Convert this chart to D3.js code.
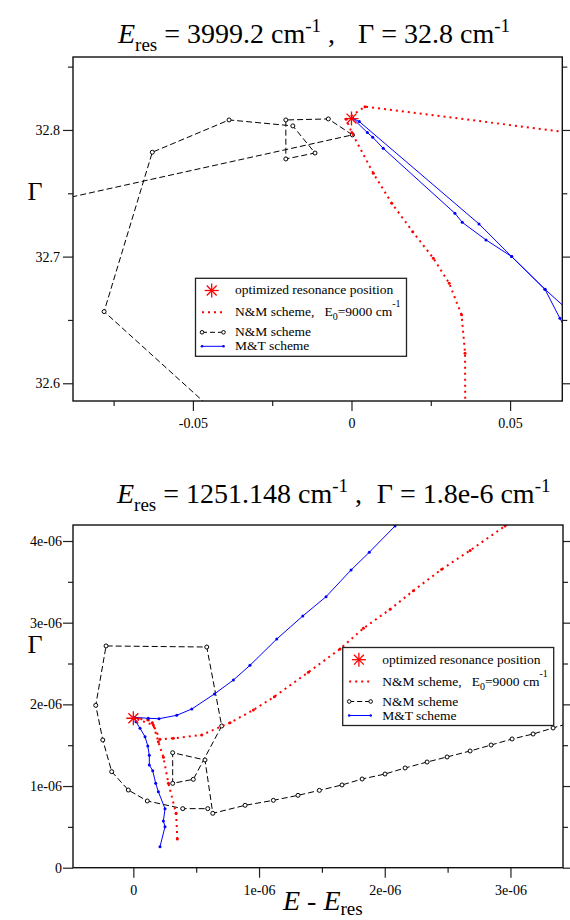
<!DOCTYPE html>
<html><head><meta charset="utf-8">
<script src="https://cdn.jsdelivr.net/npm/d3@7"></script>
<style>
body{margin:0;background:#fff}
svg{display:block}
</style>
</head><body><svg id="c" width="570" height="920"></svg>
<script>
// ---------------- data: top panel ----------------
const topXTicks = [-0.05, 0, 0.05];
const topXTickLabels = ["-0.05", "0", "0.05"];
const topXMinor = [-0.075, -0.025, 0.025];
const topYTicks = [32.6, 32.7, 32.8];
const topYTickLabels = ["32.6", "32.7", "32.8"];
const topYMinor = [32.65, 32.75, 32.85];
const topStar = [[0, 32.809]];
const topNMdotted = [
  [0.0878, 32.7919], [0.00426, 32.8184], [-0.0017, 32.8084], [0.0001, 32.7979],
  [0.00688, 32.7658], [0.0127, 32.7421], [0.0193, 32.7197], [0.0258, 32.6987],
  [0.0308, 32.6790], [0.0347, 32.6540], [0.0358, 32.6237], [0.0359, 32.55]
];
const topNM = [
  [-0.031, 32.55], [-0.0780, 32.6566], [-0.0628, 32.7824], [-0.0386, 32.8079],
  [-0.0185, 32.8032], [-0.0115, 32.7818], [-0.0207, 32.7771], [-0.0207, 32.8079],
  [-0.0073, 32.8087], [0.0003, 32.7961], [-0.12, 32.7295]
];
const topMT = [
  [0.0731, 32.6468], [0.0610, 32.6742], [0.0505, 32.7000], [0.0402, 32.7258],
  [0.00246, 32.8066], [0.0004, 32.8092], [0.0050, 32.7979], [0.0067, 32.7942],
  [0.0100, 32.7855], [0.0326, 32.7342], [0.0349, 32.7271], [0.0424, 32.7132],
  [0.0505, 32.7000], [0.0610, 32.6742], [0.0657, 32.6513], [0.0680, 32.6407]
];

// ---------------- data: bottom panel ----------------
const botXTicks = [0, 1e-6, 2e-6, 3e-6];
const botXTickLabels = ["0", "1e-06", "2e-06", "3e-06"];
const botXMinor = [0.5e-6, 1.5e-6, 2.5e-6];
const botYTicks = [0, 1e-6, 2e-6, 3e-6, 4e-6];
const botYTickLabels = ["0", "1e-06", "2e-06", "3e-06", "4e-06"];
const botYMinor = [0.5e-6, 1.5e-6, 2.5e-6, 3.5e-6];
const botStar = [[0, 1.83e-6]];
const botNMdotted = [
  [0.350e-6, 0.351e-6], [0.340e-6, 0.666e-6], [0.279e-6, 1.033e-6], [0.239e-6, 1.352e-6],
  [0.199e-6, 1.543e-6], [0.159e-6, 1.747e-6], [0.005e-6, 1.830e-6], [0.119e-6, 1.808e-6],
  [0.151e-6, 1.775e-6], [0.212e-6, 1.572e-6], [0.318e-6, 1.584e-6], [0.544e-6, 1.625e-6],
  [0.769e-6, 1.775e-6], [0.955e-6, 1.931e-6], [1.122e-6, 2.094e-6], [1.392e-6, 2.393e-6],
  [1.644e-6, 2.678e-6], [1.830e-6, 2.931e-6], [2.043e-6, 3.164e-6], [2.228e-6, 3.392e-6],
  [2.453e-6, 3.654e-6], [2.679e-6, 3.885e-6], [2.957e-6, 4.184e-6], [3.150e-6, 4.400e-6]
];
const botNM = [
  [3.510e-6, 1.790e-6], [3.339e-6, 1.711e-6], [3.180e-6, 1.637e-6], [3.013e-6, 1.576e-6],
  [2.846e-6, 1.502e-6], [2.679e-6, 1.429e-6], [2.496e-6, 1.356e-6], [2.337e-6, 1.294e-6],
  [2.162e-6, 1.221e-6], [2.002e-6, 1.147e-6], [1.820e-6, 1.086e-6], [1.660e-6, 1.013e-6],
  [1.480e-6, 0.947e-6], [1.310e-6, 0.886e-6], [1.114e-6, 0.825e-6], [0.889e-6, 0.764e-6],
  [0.632e-6, 0.666e-6], [0.570e-6, 1.319e-6], [0.313e-6, 1.408e-6], [0.313e-6, 1.033e-6],
  [0.477e-6, 1.082e-6], [0.703e-6, 1.735e-6], [0.584e-6, 2.702e-6], [-0.217e-6, 2.715e-6],
  [-0.299e-6, 1.988e-6], [-0.243e-6, 1.564e-6], [-0.172e-6, 1.176e-6], [-0.040e-6, 0.951e-6],
  [0.111e-6, 0.817e-6], [0.393e-6, 0.723e-6], [0.592e-6, 0.723e-6]
];
const botMT = [
  [0.212e-6, 0.257e-6], [0.252e-6, 0.502e-6], [0.239e-6, 0.572e-6], [0.252e-6, 0.722e-6],
  [0.199e-6, 0.931e-6], [0.178e-6, 1.033e-6], [0.154e-6, 1.188e-6], [0.127e-6, 1.258e-6],
  [0.127e-6, 1.376e-6], [0.115e-6, 1.490e-6], [0.093e-6, 1.604e-6], [0.053e-6, 1.707e-6],
  [0.021e-6, 1.788e-6], [0.006e-6, 1.842e-6], [0.119e-6, 1.829e-6], [0.204e-6, 1.824e-6],
  [0.345e-6, 1.866e-6], [0.465e-6, 1.943e-6], [0.645e-6, 2.127e-6], [0.796e-6, 2.298e-6],
  [0.928e-6, 2.478e-6], [1.141e-6, 2.800e-6], [1.348e-6, 3.082e-6], [1.533e-6, 3.318e-6],
  [1.732e-6, 3.645e-6], [1.877e-6, 3.862e-6], [2.082e-6, 4.184e-6], [2.250e-6, 4.450e-6]
];

const legendLabels = ["optimized resonance position", "N&M scheme,", "N&M scheme", "M&T scheme"];
const topTitle = {e: "3999.2", g: "32.8"};
const botTitle = {e: "1251.148", g: "1.8e-6"};

// ---------------- drawing ----------------
const FONT = "'Liberation Serif','Times New Roman',Times,serif";
const svg = d3.select("#c");
const T = (sel) => sel.append("text").attr("font-family", FONT).attr("fill", "#000");

function drawTitle(t, x0, base, gx) {
  const txt = T(svg).attr("x", x0).attr("y", base).attr("font-size", 28);
  txt.append("tspan").attr("font-style", "italic").text("E");
  txt.append("tspan").attr("dy", 8).attr("font-size", 19).text("res");
  txt.append("tspan").attr("dy", -8).attr("dx", 7).text("= " + t.e + " cm");
  txt.append("tspan").attr("dy", -11).attr("font-size", 19).text("-1");
  txt.append("tspan").attr("dy", 11).attr("dx", 7).text(",");
  const t2 = T(svg).attr("x", gx).attr("y", base).attr("font-size", 28);
  t2.append("tspan").text("\u0393 = " + t.g + " cm");
  t2.append("tspan").attr("dy", -11).attr("font-size", 19).text("-1");
}

function star(g, cx, cy, r, col) {
  const a = r * 0.7071;
  const segs = [[-r,0,r,0],[0,-r,0,r],[-a,-a,a,a],[-a,a,a,-a]];
  g.append("g").selectAll("line").data(segs).join("line")
    .attr("x1", d => cx + d[0]).attr("y1", d => cy + d[1])
    .attr("x2", d => cx + d[2]).attr("y2", d => cy + d[3])
    .attr("stroke", col).attr("stroke-width", 1.3);
}

function panel(p) {
  const x = d3.scaleLinear().domain(p.xd).range([p.L, p.R]);
  const y = d3.scaleLinear().domain(p.yd).range([p.B, p.T]);
  const g = svg.append("g");
  const cid = "clip" + p.id;
  svg.append("defs").append("clipPath").attr("id", cid)
    .append("rect").attr("x", p.L).attr("y", p.T).attr("width", p.R - p.L).attr("height", p.B - p.T);

  const axStyle = a => a.attr("font-family", FONT).attr("font-size", 14)
    .call(s => s.select(".domain").remove())
    .call(s => s.selectAll("line").attr("stroke", "#222").attr("stroke-width", 1.2))
    .call(s => s.selectAll("text").attr("fill", "#000"));
  const ym = p.ym.filter(v => y(v) >= p.T - 0.5);
  g.append("g").attr("transform", `translate(0,${p.B})`)
    .call(d3.axisBottom(x).tickValues(p.xt).tickSize(10).tickPadding(7).tickFormat((d, i) => p.xtl[i])).call(axStyle);
  g.append("g").attr("transform", `translate(0,${p.B})`)
    .call(d3.axisBottom(x).tickValues(p.xm).tickSize(5).tickFormat("")).call(axStyle);
  g.append("g").attr("transform", `translate(${p.L},0)`)
    .call(d3.axisLeft(y).tickValues(p.yt).tickSize(10).tickPadding(p.ypad).tickFormat((d, i) => p.ytl[i])).call(axStyle);
  g.append("g").attr("transform", `translate(${p.L},0)`)
    .call(d3.axisLeft(y).tickValues(ym).tickSize(5).tickFormat("")).call(axStyle);
  g.append("g").attr("transform", `translate(${p.R},0)`)
    .call(d3.axisRight(y).tickValues(p.yt).tickSize(10).tickFormat("")).call(axStyle);
  g.append("g").attr("transform", `translate(${p.R},0)`)
    .call(d3.axisRight(y).tickValues(ym).tickSize(5).tickFormat("")).call(axStyle);

  const plot = g.append("g").attr("clip-path", `url(#${cid})`);
  const line = d3.line().x(d => x(d[0])).y(d => y(d[1]));

  // N&M black dashed
  plot.append("path").attr("d", line(p.nm)).attr("fill", "none")
    .attr("stroke", "#000").attr("stroke-width", 1).attr("stroke-dasharray", "6,3");
  plot.append("g").selectAll("circle").data(p.nm).join("circle")
    .attr("cx", d => x(d[0])).attr("cy", d => y(d[1])).attr("r", 2)
    .attr("fill", "#fff").attr("stroke", "#000").attr("stroke-width", 1);
  // N&M red dotted
  plot.append("path").attr("d", line(p.nmd)).attr("fill", "none")
    .attr("stroke", "#ff0000").attr("stroke-width", 2).attr("stroke-dasharray", "2,4");
  plot.append("g").selectAll("circle").data(p.nmd).join("circle")
    .attr("cx", d => x(d[0])).attr("cy", d => y(d[1])).attr("r", 1.5).attr("fill", "#ff0000");
  // M&T blue
  plot.append("path").attr("d", line(p.mt)).attr("fill", "none")
    .attr("stroke", "#0000ff").attr("stroke-width", 1);
  plot.append("g").selectAll("circle").data(p.mt).join("circle")
    .attr("cx", d => x(d[0])).attr("cy", d => y(d[1])).attr("r", 1.5).attr("fill", "#0000ff");
  // star
  p.star.forEach(d => star(plot, x(d[0]), y(d[1]), 7, "#ff0000"));

  // frame
  g.append("rect").attr("x", p.L).attr("y", p.T).attr("width", p.R - p.L).attr("height", p.B - p.T)
    .attr("fill", "none").attr("stroke", "#111").attr("stroke-width", 1.4);

  // Gamma label
  T(svg).attr("x", 35).attr("y", p.gy).attr("text-anchor", "middle").attr("font-size", 26).text("\u0393");

  // legend
  const lgd = svg.append("g").attr("transform", `translate(${p.lg[0]},${p.lg[1]})`);
  lgd.append("rect").attr("x", 0).attr("y", 0).attr("width", 211).attr("height", 78)
    .attr("fill", "#fff").attr("stroke", "#222").attr("stroke-width", 1.3);
  const rows = [12.2, 34, 54, 68];
  star(lgd, 16.2, rows[0], 7, "#ff0000");
  lgd.append("line").attr("x1", 6.5).attr("x2", 28).attr("y1", rows[1]).attr("y2", rows[1])
    .attr("stroke", "#ff0000").attr("stroke-width", 2).attr("stroke-dasharray", "2,4");
  lgd.append("line").attr("x1", 6.5).attr("x2", 28).attr("y1", rows[2]).attr("y2", rows[2])
    .attr("stroke", "#000").attr("stroke-width", 1).attr("stroke-dasharray", "5,3");
  [6.5, 28].forEach(cx => lgd.append("circle").attr("cx", cx).attr("cy", rows[2]).attr("r", 1.8)
    .attr("fill", "#fff").attr("stroke", "#000"));
  lgd.append("line").attr("x1", 6.5).attr("x2", 28).attr("y1", rows[3]).attr("y2", rows[3])
    .attr("stroke", "#0000ff").attr("stroke-width", 1);
  [6.5, 28].forEach(cx => lgd.append("circle").attr("cx", cx).attr("cy", rows[3]).attr("r", 1.3).attr("fill", "#0000ff"));
  const tx = 39.5;
  const fs = 13.5;
  T(lgd).attr("x", tx).attr("y", rows[0] + 4).attr("font-size", fs).text(legendLabels[0]);
  const t1 = T(lgd).attr("x", tx).attr("y", rows[1] + 4).attr("font-size", fs);
  t1.append("tspan").text(legendLabels[1]);
  t1.append("tspan").attr("dx", 10).text("E");
  t1.append("tspan").attr("dy", 4).attr("font-size", 10).text("0");
  t1.append("tspan").attr("dy", -4).text("=9000 cm");
  t1.append("tspan").attr("dy", -9).attr("font-size", 10).text("-1");
  T(lgd).attr("x", tx).attr("y", rows[2] + 4).attr("font-size", fs).text(legendLabels[2]);
  T(lgd).attr("x", tx).attr("y", rows[3] + 4).attr("font-size", fs).text(legendLabels[3]);
}

drawTitle(topTitle, 118, 43, 358);
panel({
  id: "t", L: 73, R: 562.3, T: 57, B: 401,
  xd: [-0.0878, 0.06646], yd: [32.586, 32.8576],
  xt: topXTicks, xtl: topXTickLabels, xm: topXMinor,
  yt: topYTicks, ytl: topYTickLabels, ym: topYMinor, ypad: 3,
  nm: topNM, nmd: topNMdotted, mt: topMT, star: topStar,
  gy: 200, lg: [195.5, 278.3]
});

drawTitle(botTitle, 117, 503, 376.7);
panel({
  id: "b", L: 73, R: 563, T: 525, B: 867.7,
  xd: [-0.48e-6, 3.418e-6], yd: [0, 4.196e-6],
  xt: botXTicks, xtl: botXTickLabels, xm: botXMinor,
  yt: botYTicks, ytl: botYTickLabels, ym: botYMinor, ypad: 1,
  nm: botNM, nmd: botNMdotted, mt: botMT, star: botStar,
  gy: 653, lg: [342.7, 647.5]
});

// x-axis label (bottom panel)
const xl = T(svg).attr("x", 283).attr("y", 910).attr("font-size", 28);
xl.append("tspan").attr("font-style", "italic").text("E - E");
xl.append("tspan").attr("dy", 5).attr("font-size", 19).text("res");
</script>
</body></html>
